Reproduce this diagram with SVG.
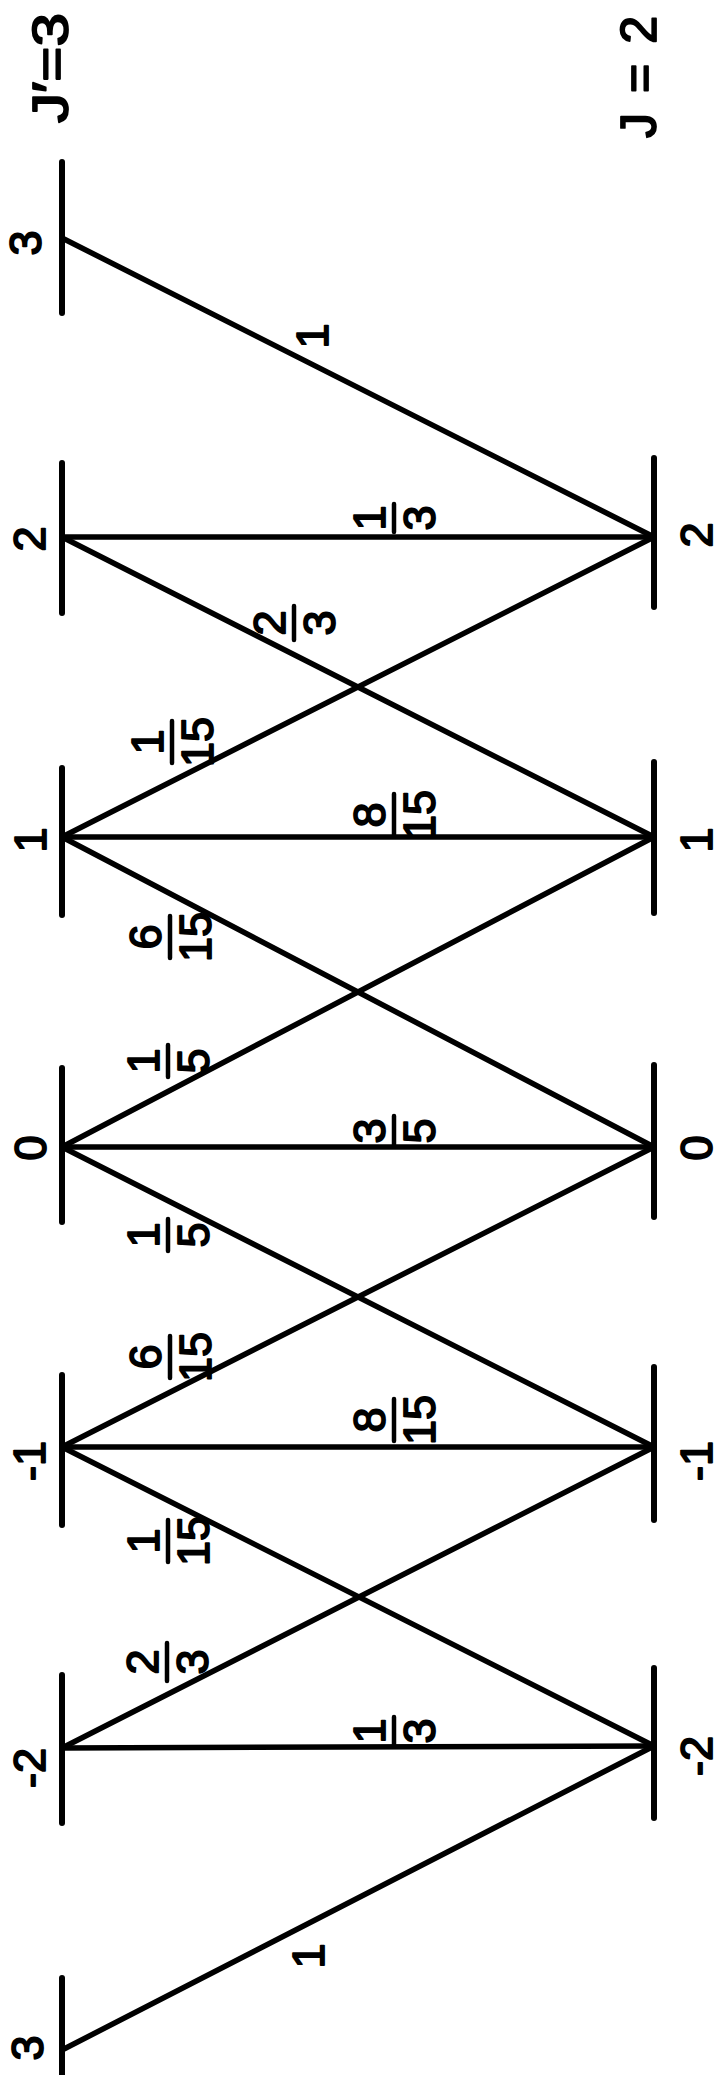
<svg xmlns="http://www.w3.org/2000/svg" width="718" height="2075" viewBox="0 0 718 2075">
<style>
.bar{stroke:#000;stroke-width:6;stroke-linecap:round;fill:none}
.ln{stroke:#000;stroke-width:5.5;stroke-linecap:round;fill:none}
.fb{stroke:#000;stroke-width:4.5;stroke-linecap:round}
text{font-family:"Liberation Sans",Arial,sans-serif;font-size:45px;fill:#000;stroke:#000;stroke-width:1.8;stroke-linejoin:round;text-anchor:middle}
.t{font-size:50px}
</style>
<rect width="718" height="2075" fill="#fff"/>
<g id="titles">
<text class="t" transform="translate(50,68) rotate(-90)" y="18" textLength="110" lengthAdjust="spacingAndGlyphs">J′=3</text>
<text class="t" transform="translate(638,77) rotate(-90)" y="18" textLength="122" lengthAdjust="spacing">J = 2</text>
</g>
<g id="left-levels">
<g id="L3"><line class="bar" x1="62" y1="162" x2="62" y2="313"/><text transform="translate(25,243) rotate(-90)" y="16">3</text></g>
<g id="L2"><line class="bar" x1="62" y1="463" x2="62" y2="613"/><text transform="translate(29,539) rotate(-90)" y="16">2</text></g>
<g id="L1"><line class="bar" x1="62" y1="768" x2="62" y2="915"/><text transform="translate(30,840) rotate(-90)" y="16">1</text></g>
<g id="L0"><line class="bar" x1="62" y1="1068" x2="62" y2="1222"/><text transform="translate(30,1148) rotate(-90)" y="16">0</text></g>
<g id="Lm1"><line class="bar" x1="62" y1="1375" x2="62" y2="1525"/><text transform="translate(29,1461) rotate(-90)" y="16">-1</text></g>
<g id="Lm2"><line class="bar" x1="62" y1="1675" x2="62" y2="1823"/><text transform="translate(29,1768) rotate(-90)" y="16">-2</text></g>
<g id="Lm3"><line class="bar" x1="62" y1="1978" x2="62" y2="2085"/><text transform="translate(27,2048) rotate(-90)" y="16">3</text></g>
</g>
<g id="right-levels">
<g id="R2"><line class="bar" x1="654" y1="458" x2="654" y2="607"/><text transform="translate(696,535) rotate(-90)" y="16">2</text></g>
<g id="R1"><line class="bar" x1="654" y1="762" x2="654" y2="913"/><text transform="translate(696,840) rotate(-90)" y="16">1</text></g>
<g id="R0"><line class="bar" x1="654" y1="1065" x2="654" y2="1217"/><text transform="translate(696,1148) rotate(-90)" y="16">0</text></g>
<g id="Rm1"><line class="bar" x1="654" y1="1367" x2="654" y2="1520"/><text transform="translate(696,1461) rotate(-90)" y="16">-1</text></g>
<g id="Rm2"><line class="bar" x1="654" y1="1668" x2="654" y2="1818"/><text transform="translate(696,1756) rotate(-90)" y="16">-2</text></g>
</g>
<g id="connectors">
<line class="ln" x1="62" y1="238" x2="654" y2="537"/>
<line class="ln" x1="62" y1="537" x2="654" y2="537"/>
<line class="ln" x1="62" y1="537" x2="654" y2="837"/>
<line class="ln" x1="62" y1="837" x2="654" y2="537"/>
<line class="ln" x1="62" y1="837" x2="654" y2="837"/>
<line class="ln" x1="62" y1="837" x2="654" y2="1147"/>
<line class="ln" x1="62" y1="1147" x2="654" y2="837"/>
<line class="ln" x1="62" y1="1147" x2="654" y2="1147"/>
<line class="ln" x1="62" y1="1147" x2="654" y2="1447"/>
<line class="ln" x1="62" y1="1447" x2="654" y2="1147"/>
<line class="ln" x1="62" y1="1447" x2="654" y2="1447"/>
<line class="ln" x1="62" y1="1447" x2="654" y2="1746"/>
<line class="ln" x1="62" y1="1748" x2="654" y2="1447"/>
<line class="ln" x1="62" y1="1748" x2="654" y2="1746"/>
<line class="ln" x1="62" y1="2050" x2="654" y2="1746"/>
</g>
<g id="connector-labels">
<text transform="translate(312,336) rotate(-90)" y="16">1</text>
<text transform="translate(308,1956) rotate(-90)" y="16">1</text>
<g transform="translate(394,518) rotate(-90)"><text y="-9">1</text><line class="fb" x1="-14" y1="0" x2="14" y2="0"/><text y="41">3</text></g>
<g transform="translate(294,623) rotate(-90)"><text y="-9">2</text><line class="fb" x1="-17" y1="0" x2="17" y2="0"/><text y="41">3</text></g>
<g transform="translate(172,742) rotate(-90)"><text y="-9">1</text><line class="fb" x1="-21" y1="0" x2="21" y2="0"/><text y="41">15</text></g>
<g transform="translate(394,815) rotate(-90)"><text y="-9">8</text><line class="fb" x1="-21" y1="0" x2="21" y2="0"/><text y="41">15</text></g>
<g transform="translate(170,937) rotate(-90)"><text y="-9">6</text><line class="fb" x1="-21" y1="0" x2="21" y2="0"/><text y="41">15</text></g>
<g transform="translate(168,1061) rotate(-90)"><text y="-9">1</text><line class="fb" x1="-16" y1="0" x2="16" y2="0"/><text y="41">5</text></g>
<g transform="translate(394,1131) rotate(-90)"><text y="-9">3</text><line class="fb" x1="-15" y1="0" x2="15" y2="0"/><text y="41">5</text></g>
<g transform="translate(168,1235) rotate(-90)"><text y="-9">1</text><line class="fb" x1="-16" y1="0" x2="16" y2="0"/><text y="41">5</text></g>
<g transform="translate(170,1357) rotate(-90)"><text y="-9">6</text><line class="fb" x1="-21" y1="0" x2="21" y2="0"/><text y="41">15</text></g>
<g transform="translate(394,1420) rotate(-90)"><text y="-9">8</text><line class="fb" x1="-21" y1="0" x2="21" y2="0"/><text y="41">15</text></g>
<g transform="translate(168,1541) rotate(-90)"><text y="-9">1</text><line class="fb" x1="-21" y1="0" x2="21" y2="0"/><text y="41">15</text></g>
<g transform="translate(167,1662) rotate(-90)"><text y="-9">2</text><line class="fb" x1="-19" y1="0" x2="19" y2="0"/><text y="41">3</text></g>
<g transform="translate(394,1731) rotate(-90)"><text y="-9">1</text><line class="fb" x1="-14" y1="0" x2="14" y2="0"/><text y="41">3</text></g>
</g>
</svg>
